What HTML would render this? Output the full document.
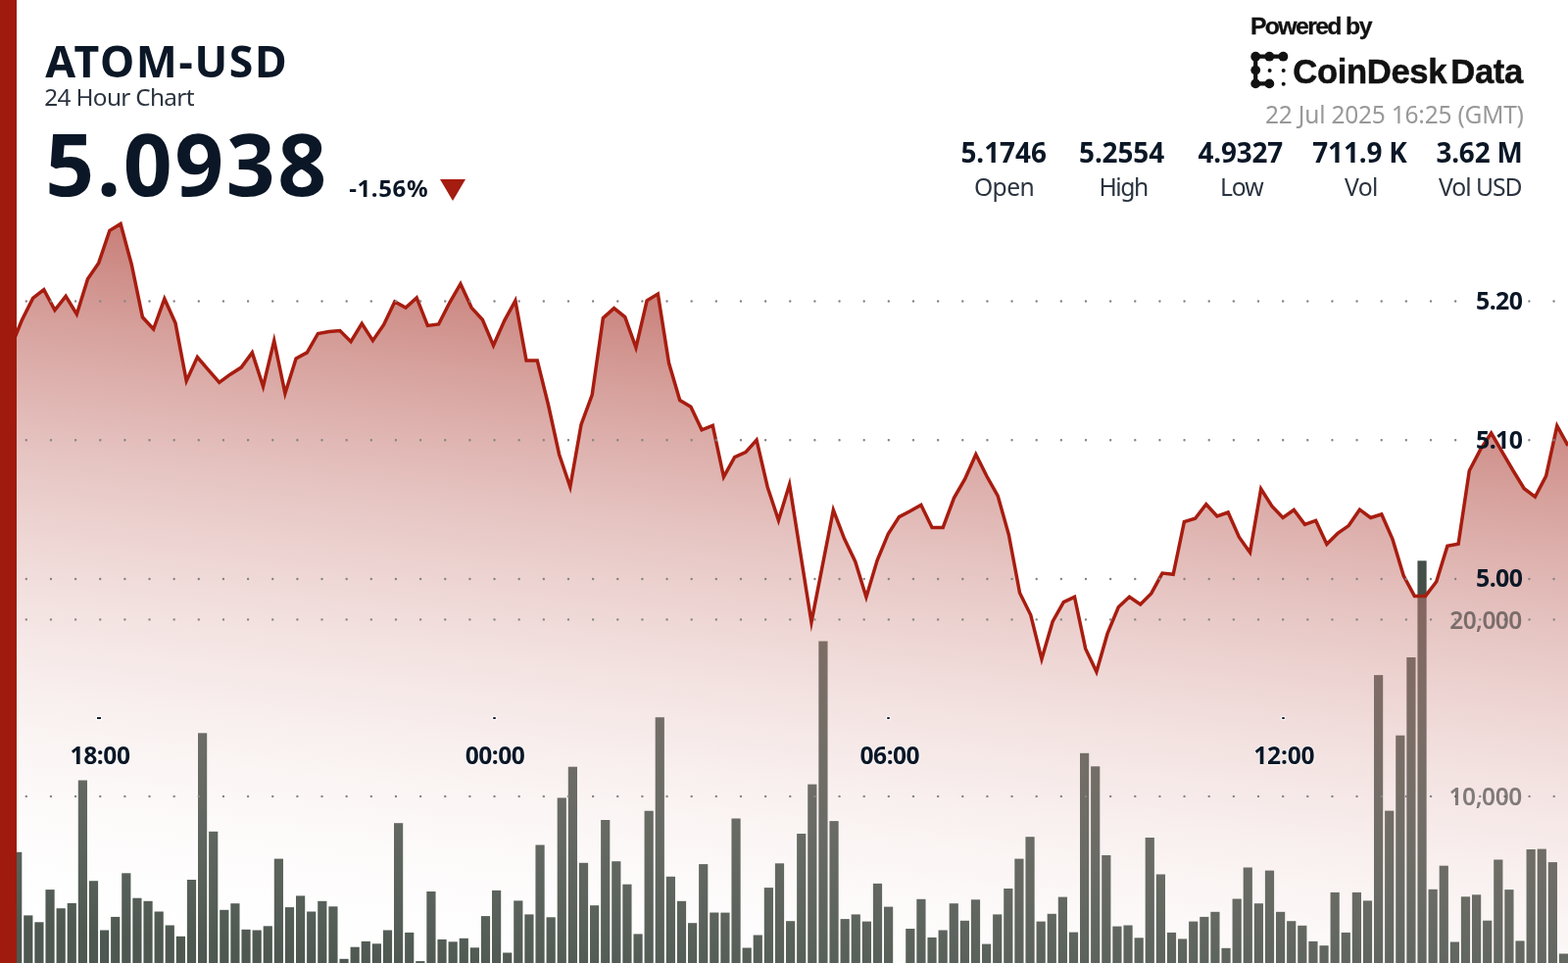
<!DOCTYPE html>
<html><head><meta charset="utf-8">
<style>
html,body{margin:0;padding:0;background:#fff;}
body{width:1600px;height:983px;overflow:hidden;position:relative;}
.t{position:absolute;white-space:nowrap;line-height:1;}
.halo{text-shadow:0 0 1px #fff,0 0 1px #fff,0 0 2px #fff,0 0 2px #fff;}
.tick{position:absolute;background:#16202e;box-shadow:0 0 1px 1px #fff;}
svg{position:absolute;left:0;top:0;}
</style></head><body>
<svg width="1600" height="983" viewBox="0 0 1600 983">
<g fill="#444f47">
<rect x="2.00" y="900.0" width="9.2" height="92.0"/>
<rect x="13.11" y="869.8" width="9.2" height="122.2"/>
<rect x="24.22" y="934.4" width="9.2" height="57.6"/>
<rect x="35.33" y="941.3" width="9.2" height="50.7"/>
<rect x="46.44" y="908.1" width="9.2" height="83.9"/>
<rect x="57.56" y="927.2" width="9.2" height="64.8"/>
<rect x="68.67" y="921.9" width="9.2" height="70.1"/>
<rect x="79.78" y="796.5" width="9.2" height="195.5"/>
<rect x="90.89" y="899.2" width="9.2" height="92.8"/>
<rect x="102.00" y="949.5" width="9.2" height="42.5"/>
<rect x="113.11" y="935.9" width="9.2" height="56.1"/>
<rect x="124.22" y="891.3" width="9.2" height="100.7"/>
<rect x="135.33" y="916.7" width="9.2" height="75.3"/>
<rect x="146.44" y="919.8" width="9.2" height="72.2"/>
<rect x="157.56" y="930.5" width="9.2" height="61.5"/>
<rect x="168.67" y="944.5" width="9.2" height="47.5"/>
<rect x="179.78" y="955.8" width="9.2" height="36.2"/>
<rect x="190.89" y="898.0" width="9.2" height="94.0"/>
<rect x="202.00" y="748.3" width="9.2" height="243.7"/>
<rect x="213.11" y="848.8" width="9.2" height="143.2"/>
<rect x="224.22" y="928.8" width="9.2" height="63.2"/>
<rect x="235.33" y="922.2" width="9.2" height="69.8"/>
<rect x="246.44" y="948.8" width="9.2" height="43.2"/>
<rect x="257.56" y="949.5" width="9.2" height="42.5"/>
<rect x="268.67" y="945.3" width="9.2" height="46.7"/>
<rect x="279.78" y="876.6" width="9.2" height="115.4"/>
<rect x="290.89" y="926.1" width="9.2" height="65.9"/>
<rect x="302.00" y="914.4" width="9.2" height="77.6"/>
<rect x="313.11" y="930.5" width="9.2" height="61.5"/>
<rect x="324.22" y="919.8" width="9.2" height="72.2"/>
<rect x="335.33" y="925.3" width="9.2" height="66.7"/>
<rect x="346.44" y="978.8" width="9.2" height="13.2"/>
<rect x="357.56" y="966.7" width="9.2" height="25.3"/>
<rect x="368.67" y="960.9" width="9.2" height="31.1"/>
<rect x="379.78" y="963.3" width="9.2" height="28.7"/>
<rect x="390.89" y="949.5" width="9.2" height="42.5"/>
<rect x="402.00" y="840.2" width="9.2" height="151.8"/>
<rect x="413.11" y="951.9" width="9.2" height="40.1"/>
<rect x="424.22" y="981.1" width="9.2" height="10.9"/>
<rect x="435.33" y="910.0" width="9.2" height="82.0"/>
<rect x="446.44" y="958.9" width="9.2" height="33.1"/>
<rect x="457.56" y="961.3" width="9.2" height="30.7"/>
<rect x="468.67" y="957.8" width="9.2" height="34.2"/>
<rect x="479.78" y="967.3" width="9.2" height="24.7"/>
<rect x="490.89" y="935.1" width="9.2" height="56.9"/>
<rect x="502.00" y="908.9" width="9.2" height="83.1"/>
<rect x="513.11" y="972.5" width="9.2" height="19.5"/>
<rect x="524.22" y="919.4" width="9.2" height="72.6"/>
<rect x="535.33" y="933.4" width="9.2" height="58.6"/>
<rect x="546.44" y="862.5" width="9.2" height="129.5"/>
<rect x="557.56" y="936.3" width="9.2" height="55.7"/>
<rect x="568.67" y="814.4" width="9.2" height="177.6"/>
<rect x="579.78" y="782.7" width="9.2" height="209.3"/>
<rect x="590.89" y="880.8" width="9.2" height="111.2"/>
<rect x="602.00" y="924.2" width="9.2" height="67.8"/>
<rect x="613.11" y="837.0" width="9.2" height="155.0"/>
<rect x="624.22" y="879.2" width="9.2" height="112.8"/>
<rect x="635.33" y="902.7" width="9.2" height="89.3"/>
<rect x="646.44" y="953.4" width="9.2" height="38.6"/>
<rect x="657.56" y="827.7" width="9.2" height="164.3"/>
<rect x="668.67" y="732.2" width="9.2" height="259.8"/>
<rect x="679.78" y="894.8" width="9.2" height="97.2"/>
<rect x="690.89" y="919.8" width="9.2" height="72.2"/>
<rect x="702.00" y="942.2" width="9.2" height="49.8"/>
<rect x="713.11" y="882.1" width="9.2" height="109.9"/>
<rect x="724.22" y="931.5" width="9.2" height="60.5"/>
<rect x="735.33" y="931.6" width="9.2" height="60.4"/>
<rect x="746.44" y="835.5" width="9.2" height="156.5"/>
<rect x="757.56" y="967.5" width="9.2" height="24.5"/>
<rect x="768.67" y="954.5" width="9.2" height="37.5"/>
<rect x="779.78" y="906.1" width="9.2" height="85.9"/>
<rect x="790.89" y="881.3" width="9.2" height="110.7"/>
<rect x="802.00" y="940.2" width="9.2" height="51.8"/>
<rect x="813.11" y="851.0" width="9.2" height="141.0"/>
<rect x="824.22" y="800.6" width="9.2" height="191.4"/>
<rect x="835.33" y="654.5" width="9.2" height="337.5"/>
<rect x="846.44" y="838.1" width="9.2" height="153.9"/>
<rect x="857.56" y="938.1" width="9.2" height="53.9"/>
<rect x="868.67" y="933.4" width="9.2" height="58.6"/>
<rect x="879.78" y="940.6" width="9.2" height="51.4"/>
<rect x="890.89" y="901.9" width="9.2" height="90.1"/>
<rect x="902.00" y="925.6" width="9.2" height="66.4"/>
<rect x="924.22" y="948.0" width="9.2" height="44.0"/>
<rect x="935.33" y="917.8" width="9.2" height="74.2"/>
<rect x="946.44" y="956.9" width="9.2" height="35.1"/>
<rect x="957.56" y="949.5" width="9.2" height="42.5"/>
<rect x="968.67" y="922.2" width="9.2" height="69.8"/>
<rect x="979.78" y="939.8" width="9.2" height="52.2"/>
<rect x="990.89" y="918.3" width="9.2" height="73.7"/>
<rect x="1002.00" y="963.6" width="9.2" height="28.4"/>
<rect x="1013.11" y="933.4" width="9.2" height="58.6"/>
<rect x="1024.22" y="907.0" width="9.2" height="85.0"/>
<rect x="1035.33" y="876.6" width="9.2" height="115.4"/>
<rect x="1046.44" y="854.2" width="9.2" height="137.8"/>
<rect x="1057.56" y="940.6" width="9.2" height="51.4"/>
<rect x="1068.67" y="932.8" width="9.2" height="59.2"/>
<rect x="1079.78" y="915.6" width="9.2" height="76.4"/>
<rect x="1090.89" y="951.6" width="9.2" height="40.4"/>
<rect x="1102.00" y="768.8" width="9.2" height="223.2"/>
<rect x="1113.11" y="782.3" width="9.2" height="209.7"/>
<rect x="1124.22" y="873.0" width="9.2" height="119.0"/>
<rect x="1135.33" y="945.6" width="9.2" height="46.4"/>
<rect x="1146.44" y="944.5" width="9.2" height="47.5"/>
<rect x="1157.56" y="957.3" width="9.2" height="34.7"/>
<rect x="1168.67" y="855.0" width="9.2" height="137.0"/>
<rect x="1179.78" y="892.5" width="9.2" height="99.5"/>
<rect x="1190.89" y="951.9" width="9.2" height="40.1"/>
<rect x="1202.00" y="958.4" width="9.2" height="33.6"/>
<rect x="1213.11" y="940.6" width="9.2" height="51.4"/>
<rect x="1224.22" y="935.9" width="9.2" height="56.1"/>
<rect x="1235.33" y="930.8" width="9.2" height="61.2"/>
<rect x="1246.44" y="967.8" width="9.2" height="24.2"/>
<rect x="1257.56" y="917.5" width="9.2" height="74.5"/>
<rect x="1268.67" y="885.5" width="9.2" height="106.5"/>
<rect x="1279.78" y="922.2" width="9.2" height="69.8"/>
<rect x="1290.89" y="888.6" width="9.2" height="103.4"/>
<rect x="1302.00" y="930.8" width="9.2" height="61.2"/>
<rect x="1313.11" y="940.2" width="9.2" height="51.8"/>
<rect x="1324.22" y="944.8" width="9.2" height="47.2"/>
<rect x="1335.33" y="960.9" width="9.2" height="31.1"/>
<rect x="1346.44" y="965.2" width="9.2" height="26.8"/>
<rect x="1357.56" y="910.9" width="9.2" height="81.1"/>
<rect x="1368.67" y="951.9" width="9.2" height="40.1"/>
<rect x="1379.78" y="910.9" width="9.2" height="81.1"/>
<rect x="1390.89" y="919.4" width="9.2" height="72.6"/>
<rect x="1402.00" y="689.1" width="9.2" height="302.9"/>
<rect x="1413.11" y="827.6" width="9.2" height="164.4"/>
<rect x="1424.22" y="750.7" width="9.2" height="241.3"/>
<rect x="1435.33" y="671.0" width="9.2" height="321.0"/>
<rect x="1446.44" y="572.4" width="9.2" height="419.6"/>
<rect x="1457.56" y="907.8" width="9.2" height="84.2"/>
<rect x="1468.67" y="883.7" width="9.2" height="108.3"/>
<rect x="1479.78" y="961.5" width="9.2" height="30.5"/>
<rect x="1490.89" y="915.3" width="9.2" height="76.7"/>
<rect x="1502.00" y="913.3" width="9.2" height="78.7"/>
<rect x="1513.11" y="939.7" width="9.2" height="52.3"/>
<rect x="1524.22" y="877.5" width="9.2" height="114.5"/>
<rect x="1535.33" y="908.1" width="9.2" height="83.9"/>
<rect x="1546.44" y="960.4" width="9.2" height="31.6"/>
<rect x="1557.56" y="867.0" width="9.2" height="125.0"/>
<rect x="1568.67" y="866.6" width="9.2" height="125.4"/>
<rect x="1579.78" y="880.1" width="9.2" height="111.9"/>
<rect x="1590.89" y="973.5" width="9.2" height="18.5"/>
</g>
</svg>
<svg width="1600" height="983" viewBox="0 0 1600 983">
<defs>
<linearGradient id="fg" x1="400.0" y1="106.6" x2="297.7" y2="977.4" gradientUnits="userSpaceOnUse">
<stop offset="0.0000" stop-color="rgb(158,27,16)" stop-opacity="0.818"/>
<stop offset="0.0417" stop-color="rgb(162,36,26)" stop-opacity="0.786"/>
<stop offset="0.0833" stop-color="rgb(166,46,36)" stop-opacity="0.754"/>
<stop offset="0.1250" stop-color="rgb(170,56,46)" stop-opacity="0.722"/>
<stop offset="0.1667" stop-color="rgb(174,65,56)" stop-opacity="0.690"/>
<stop offset="0.2083" stop-color="rgb(178,74,66)" stop-opacity="0.658"/>
<stop offset="0.2500" stop-color="rgb(182,84,76)" stop-opacity="0.627"/>
<stop offset="0.2917" stop-color="rgb(186,94,86)" stop-opacity="0.595"/>
<stop offset="0.3333" stop-color="rgb(190,103,96)" stop-opacity="0.563"/>
<stop offset="0.3750" stop-color="rgb(194,112,106)" stop-opacity="0.531"/>
<stop offset="0.4167" stop-color="rgb(198,122,116)" stop-opacity="0.499"/>
<stop offset="0.4583" stop-color="rgb(202,132,126)" stop-opacity="0.467"/>
<stop offset="0.5000" stop-color="rgb(206,141,136)" stop-opacity="0.435"/>
<stop offset="0.5417" stop-color="rgb(211,150,145)" stop-opacity="0.403"/>
<stop offset="0.5833" stop-color="rgb(215,160,155)" stop-opacity="0.371"/>
<stop offset="0.6250" stop-color="rgb(219,170,165)" stop-opacity="0.339"/>
<stop offset="0.6667" stop-color="rgb(223,179,175)" stop-opacity="0.307"/>
<stop offset="0.7083" stop-color="rgb(227,188,185)" stop-opacity="0.275"/>
<stop offset="0.7500" stop-color="rgb(231,198,195)" stop-opacity="0.244"/>
<stop offset="0.7917" stop-color="rgb(235,208,205)" stop-opacity="0.212"/>
<stop offset="0.8333" stop-color="rgb(239,217,215)" stop-opacity="0.180"/>
<stop offset="0.8750" stop-color="rgb(243,226,225)" stop-opacity="0.148"/>
<stop offset="0.9167" stop-color="rgb(247,236,235)" stop-opacity="0.116"/>
<stop offset="0.9583" stop-color="rgb(251,246,245)" stop-opacity="0.084"/>
<stop offset="1.0000" stop-color="rgb(255,255,255)" stop-opacity="0.052"/>
</linearGradient>
</defs>
<path d="M0.00,368.0 L11.19,354.0 L22.38,326.8 L33.57,304.4 L44.76,295.7 L55.94,316.6 L67.13,302.4 L78.32,320.7 L89.51,284.7 L100.70,268.4 L111.89,235.3 L123.08,228.5 L134.27,270.0 L145.45,323.8 L156.64,336.0 L167.83,305.0 L179.02,329.9 L190.21,388.9 L201.40,364.5 L212.59,377.6 L223.78,390.4 L234.97,382.2 L246.15,375.1 L257.34,359.9 L268.53,394.5 L279.72,347.7 L290.91,401.6 L302.10,366.0 L313.29,359.9 L324.48,340.5 L335.66,338.5 L346.85,337.5 L358.04,348.7 L369.23,330.4 L380.42,347.7 L391.61,331.4 L402.80,308.0 L413.99,314.1 L425.17,303.9 L436.36,332.4 L447.55,331.0 L458.74,309.0 L469.93,289.7 L481.12,314.1 L492.31,326.3 L503.50,352.7 L514.69,327.3 L525.87,307.0 L537.06,368.0 L548.25,368.0 L559.44,413.0 L570.63,464.0 L581.82,497.0 L593.01,433.4 L604.20,403.1 L615.38,324.7 L626.57,314.6 L637.76,323.6 L648.95,354.9 L660.14,306.8 L671.33,300.1 L682.52,370.5 L693.71,408.6 L704.90,415.3 L716.08,438.8 L727.27,434.3 L738.46,486.9 L749.65,466.7 L760.84,461.6 L772.03,449.2 L783.22,497.2 L794.41,531.1 L805.59,494.4 L816.78,564.8 L827.97,635.2 L839.16,577.9 L850.35,520.6 L861.54,549.8 L872.73,573.2 L883.92,609.5 L895.10,572.0 L906.29,545.1 L917.48,527.6 L928.67,521.8 L939.86,515.4 L951.05,538.4 L962.24,538.4 L973.43,508.3 L984.62,488.9 L995.80,463.8 L1006.99,486.3 L1018.18,506.1 L1029.37,545.8 L1040.56,605.3 L1051.75,627.8 L1062.94,672.8 L1074.13,634.4 L1085.31,614.6 L1096.50,609.3 L1107.69,662.2 L1118.88,685.8 L1130.07,646.7 L1141.26,619.8 L1152.45,609.3 L1163.64,616.9 L1174.83,605.7 L1186.01,585.1 L1197.20,586.3 L1208.39,532.6 L1219.58,529.2 L1230.77,514.7 L1241.96,527.0 L1253.15,523.0 L1264.34,548.2 L1275.52,563.9 L1286.71,499.0 L1297.90,516.7 L1309.09,528.5 L1320.28,520.5 L1331.47,535.4 L1342.66,531.4 L1353.85,555.6 L1365.03,544.4 L1376.22,536.6 L1387.41,520.2 L1398.60,528.5 L1409.79,525.0 L1420.98,550.4 L1432.17,587.6 L1443.36,608.4 L1454.55,608.4 L1465.73,593.7 L1476.92,557.4 L1488.11,555.3 L1499.30,480.5 L1510.49,459.1 L1521.68,442.1 L1532.87,461.3 L1544.06,480.5 L1555.24,498.7 L1566.43,507.2 L1577.62,485.9 L1588.81,434.6 L1600.00,455.0 L1600,992 L0,992 Z" fill="url(#fg)"/>
<path d="M0.00,368.0 L11.19,354.0 L22.38,326.8 L33.57,304.4 L44.76,295.7 L55.94,316.6 L67.13,302.4 L78.32,320.7 L89.51,284.7 L100.70,268.4 L111.89,235.3 L123.08,228.5 L134.27,270.0 L145.45,323.8 L156.64,336.0 L167.83,305.0 L179.02,329.9 L190.21,388.9 L201.40,364.5 L212.59,377.6 L223.78,390.4 L234.97,382.2 L246.15,375.1 L257.34,359.9 L268.53,394.5 L279.72,347.7 L290.91,401.6 L302.10,366.0 L313.29,359.9 L324.48,340.5 L335.66,338.5 L346.85,337.5 L358.04,348.7 L369.23,330.4 L380.42,347.7 L391.61,331.4 L402.80,308.0 L413.99,314.1 L425.17,303.9 L436.36,332.4 L447.55,331.0 L458.74,309.0 L469.93,289.7 L481.12,314.1 L492.31,326.3 L503.50,352.7 L514.69,327.3 L525.87,307.0 L537.06,368.0 L548.25,368.0 L559.44,413.0 L570.63,464.0 L581.82,497.0 L593.01,433.4 L604.20,403.1 L615.38,324.7 L626.57,314.6 L637.76,323.6 L648.95,354.9 L660.14,306.8 L671.33,300.1 L682.52,370.5 L693.71,408.6 L704.90,415.3 L716.08,438.8 L727.27,434.3 L738.46,486.9 L749.65,466.7 L760.84,461.6 L772.03,449.2 L783.22,497.2 L794.41,531.1 L805.59,494.4 L816.78,564.8 L827.97,635.2 L839.16,577.9 L850.35,520.6 L861.54,549.8 L872.73,573.2 L883.92,609.5 L895.10,572.0 L906.29,545.1 L917.48,527.6 L928.67,521.8 L939.86,515.4 L951.05,538.4 L962.24,538.4 L973.43,508.3 L984.62,488.9 L995.80,463.8 L1006.99,486.3 L1018.18,506.1 L1029.37,545.8 L1040.56,605.3 L1051.75,627.8 L1062.94,672.8 L1074.13,634.4 L1085.31,614.6 L1096.50,609.3 L1107.69,662.2 L1118.88,685.8 L1130.07,646.7 L1141.26,619.8 L1152.45,609.3 L1163.64,616.9 L1174.83,605.7 L1186.01,585.1 L1197.20,586.3 L1208.39,532.6 L1219.58,529.2 L1230.77,514.7 L1241.96,527.0 L1253.15,523.0 L1264.34,548.2 L1275.52,563.9 L1286.71,499.0 L1297.90,516.7 L1309.09,528.5 L1320.28,520.5 L1331.47,535.4 L1342.66,531.4 L1353.85,555.6 L1365.03,544.4 L1376.22,536.6 L1387.41,520.2 L1398.60,528.5 L1409.79,525.0 L1420.98,550.4 L1432.17,587.6 L1443.36,608.4 L1454.55,608.4 L1465.73,593.7 L1476.92,557.4 L1488.11,555.3 L1499.30,480.5 L1510.49,459.1 L1521.68,442.1 L1532.87,461.3 L1544.06,480.5 L1555.24,498.7 L1566.43,507.2 L1577.62,485.9 L1588.81,434.6 L1600.00,455.0" fill="none" stroke="#a71d10" stroke-width="3.5" stroke-linejoin="miter" stroke-miterlimit="10"/>
<g stroke="#858585" stroke-width="2.4" stroke-linecap="round" stroke-dasharray="0.01 25.134">
<line x1="26.8" y1="307.5" x2="1500" y2="307.5"/><line x1="1560.4" y1="307.5" x2="1600" y2="307.5"/>
<line x1="26.8" y1="449.2" x2="1500" y2="449.2"/><line x1="1560.4" y1="449.2" x2="1600" y2="449.2"/>
<line x1="26.8" y1="591.0" x2="1500" y2="591.0"/><line x1="1560.4" y1="591.0" x2="1600" y2="591.0"/>
<line x1="26.8" y1="632.4" x2="1600" y2="632.4"/>
<line x1="26.8" y1="812.9" x2="1600" y2="812.9"/>
</g>
</svg>
<div class="t" style="left:1479.2px;top:620.55px;font-family:'Noto Sans','Liberation Sans',sans-serif;font-weight:600;font-size:24.5px;letter-spacing:-0.55px;color:rgba(50,50,50,0.6);">20,000</div>
<div class="t" style="left:1478.45px;top:800.9px;font-family:'Noto Sans','Liberation Sans',sans-serif;font-weight:600;font-size:24.5px;letter-spacing:-0.4px;color:rgba(50,50,50,0.6);">10,000</div>
<div class="t" style="left:1506.05px;top:293.95px;font-family:'Noto Sans','Liberation Sans',sans-serif;font-weight:700;font-size:24.9px;letter-spacing:-0.59px;color:#0b1726;">5.20</div>
<div class="t" style="left:1506.05px;top:435.65px;font-family:'Noto Sans','Liberation Sans',sans-serif;font-weight:700;font-size:24.9px;letter-spacing:-0.59px;color:#0b1726;">5.10</div>
<div class="t" style="left:1506.05px;top:577.45px;font-family:'Noto Sans','Liberation Sans',sans-serif;font-weight:700;font-size:24.9px;letter-spacing:-0.59px;color:#0b1726;">5.00</div>
<div class="tick" style="left:98.6px;top:732px;width:4.8px;height:2px"></div><div class="tick" style="left:502.60px;top:731.7px;width:3.2px;height:2.6px;border-radius:1.3px"></div><div class="tick" style="left:905.10px;top:731.7px;width:3.2px;height:2.6px;border-radius:1.3px"></div><div class="tick" style="left:1307.80px;top:731.7px;width:3.2px;height:2.6px;border-radius:1.3px"></div>
<div class="t halo" style="left:71.5px;top:758.5px;font-family:'Noto Sans','Liberation Sans',sans-serif;font-weight:700;font-size:24.6px;letter-spacing:-0.43px;color:#0b1726;">18:00</div>
<div class="t halo" style="left:474.8px;top:758.5px;font-family:'Noto Sans','Liberation Sans',sans-serif;font-weight:700;font-size:24.6px;letter-spacing:-0.56px;color:#0b1726;">00:00</div>
<div class="t halo" style="left:877.6px;top:758.5px;font-family:'Noto Sans','Liberation Sans',sans-serif;font-weight:700;font-size:24.6px;letter-spacing:-0.55px;color:#0b1726;">06:00</div>
<div class="t halo" style="left:1279.2px;top:758.5px;font-family:'Noto Sans','Liberation Sans',sans-serif;font-weight:700;font-size:24.6px;letter-spacing:-0.18px;color:#0b1726;">12:00</div>
<div style="position:absolute;left:0;top:0;width:17.4px;height:983px;background:#a01b0d;"></div>
<div class="t" style="left:46.2px;top:40.2px;font-family:'Noto Sans','Liberation Sans',sans-serif;font-weight:700;font-size:44.57px;letter-spacing:1.63px;color:#0b1726;">ATOM-USD</div>
<div class="t" style="left:45.35px;top:87.3px;font-family:'Noto Sans','Liberation Sans',sans-serif;font-weight:400;font-size:24.33px;letter-spacing:-0.67px;color:#2b3440;">24 Hour Chart</div>
<div class="t" style="left:46.25px;top:122.9px;font-family:'Noto Sans','Liberation Sans',sans-serif;font-weight:700;font-size:87.39px;letter-spacing:2.52px;color:#0b1726;">5.0938</div>
<div class="t" style="left:356.15px;top:180.45px;font-family:'Noto Sans','Liberation Sans',sans-serif;font-weight:700;font-size:24.0px;letter-spacing:0.63px;color:#0b1726;">-1.56%</div>
<div style="position:absolute;left:449.2px;top:183.3px;width:0;height:0;border-left:13.4px solid transparent;border-right:13.4px solid transparent;border-top:22px solid #a51c10;"></div>
<div class="t" style="left:1275.9px;top:15.25px;font-family:'Liberation Sans',sans-serif;font-weight:700;font-size:24.77px;letter-spacing:-1.61px;color:#111111;-webkit-text-stroke:0.3px #111;">Powered by</div>
<svg width="46" height="46" viewBox="1270 49 46 46" style="left:1270px;top:49px;">
<g fill="#111">
<path d="M1281.2,57.7 H1309.4 M1281.2,57.7 V85.4 H1295.3" stroke="#111" stroke-width="4.2" fill="none"/>
<circle cx="1281.2" cy="57.7" r="4.9"/><circle cx="1295.3" cy="57.7" r="4.9"/><circle cx="1309.4" cy="57.7" r="4.9"/>
<circle cx="1281.2" cy="71.6" r="4.9"/><circle cx="1281.2" cy="85.4" r="4.9"/><circle cx="1295.3" cy="85.4" r="4.9"/>
<circle cx="1295.6" cy="72.0" r="2.0"/><circle cx="1309.7" cy="72.0" r="2.0"/><circle cx="1309.7" cy="85.8" r="2.0"/>
</g>
</svg>
<div class="t" style="left:1319.35px;top:55.6px;font-family:'Liberation Sans',sans-serif;font-weight:700;font-size:34.67px;letter-spacing:-0.39px;color:#111111;-webkit-text-stroke:0.5px #111;word-spacing:-5px;">CoinDesk Data</div>
<div class="t" style="left:1291.05px;top:105.35px;font-family:'Noto Sans','Liberation Sans',sans-serif;font-weight:400;font-size:24.5px;letter-spacing:-0.22px;color:#999999;">22 Jul 2025 16:25 (GMT)</div>
<div class="t" style="left:980.45px;top:141.6px;font-family:'Noto Sans','Liberation Sans',sans-serif;font-weight:700;font-size:27.9px;letter-spacing:-0.02px;color:#0b1726;">5.1746</div><div class="t" style="left:1101.05px;top:141.6px;font-family:'Noto Sans','Liberation Sans',sans-serif;font-weight:700;font-size:27.9px;letter-spacing:-0.11px;color:#0b1726;">5.2554</div><div class="t" style="left:1222.5px;top:141.6px;font-family:'Noto Sans','Liberation Sans',sans-serif;font-weight:700;font-size:27.9px;letter-spacing:-0.17px;color:#0b1726;">4.9327</div><div class="t" style="left:1339.25px;top:141.6px;font-family:'Noto Sans','Liberation Sans',sans-serif;font-weight:700;font-size:27.9px;letter-spacing:-0.14px;color:#0b1726;">711.9 K</div><div class="t" style="left:1465.4px;top:141.85px;font-family:'Noto Sans','Liberation Sans',sans-serif;font-weight:700;font-size:27.9px;letter-spacing:-0.16px;color:#0b1726;">3.62 M</div>
<div class="t" style="left:994.0px;top:179.05px;font-family:'Noto Sans','Liberation Sans',sans-serif;font-weight:400;font-size:24.7px;letter-spacing:-0.66px;color:#2b3440;">Open</div><div class="t" style="left:1121.4px;top:178.8px;font-family:'Noto Sans','Liberation Sans',sans-serif;font-weight:400;font-size:24.7px;letter-spacing:-1.44px;color:#2b3440;">High</div><div class="t" style="left:1244.9px;top:178.8px;font-family:'Noto Sans','Liberation Sans',sans-serif;font-weight:400;font-size:24.7px;letter-spacing:-1.06px;color:#2b3440;">Low</div><div class="t" style="left:1371.9px;top:178.8px;font-family:'Noto Sans','Liberation Sans',sans-serif;font-weight:400;font-size:24.7px;letter-spacing:-0.53px;color:#2b3440;">Vol</div><div class="t" style="left:1468.1px;top:178.8px;font-family:'Noto Sans','Liberation Sans',sans-serif;font-weight:400;font-size:24.7px;letter-spacing:-1.04px;color:#2b3440;">Vol USD</div>
</body></html>
